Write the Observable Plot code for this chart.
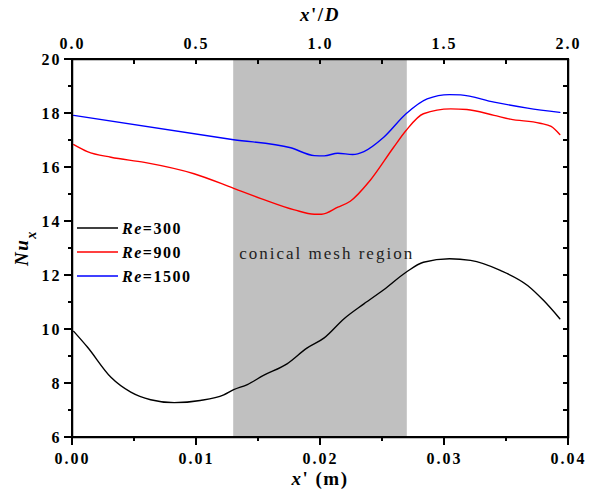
<!DOCTYPE html>
<html><head><meta charset="utf-8">
<script src="https://cdn.jsdelivr.net/npm/d3@7"></script>
<script src="https://cdn.jsdelivr.net/npm/@observablehq/plot@0.6"></script>
<style>
html,body{margin:0;padding:0;background:#fff;overflow:hidden;}
#wrap{position:relative;width:603px;height:491px;}
#wrap svg{display:block;}
#overlay{position:absolute;left:0;top:0;width:603px;height:491px;pointer-events:none;}
#overlay div{position:absolute;background:#000;}
</style>
</head><body><div id="wrap"><div id="chart"></div><div id="overlay"></div></div>
<script>
// x' (m) positions and Nu_x values
const re300X = [0.0001,0.0012,0.0031,0.0047,0.0063,0.0082,0.0103,0.0122,0.0130,0.0141,0.0154,0.0173,0.0189,0.0203,0.0219,0.0235,0.0251,0.0269,0.0283,0.0304,0.0321,0.0345,0.0367,0.0380,0.0393];
const re300Y = [9.93,9.35,8.23,7.68,7.40,7.29,7.37,7.58,7.77,7.96,8.30,8.73,9.31,9.69,10.40,10.95,11.47,12.12,12.49,12.62,12.56,12.19,11.63,11.07,10.40];
const re900X = [0.0001,0.0012,0.0031,0.0058,0.0098,0.0130,0.0152,0.0179,0.0195,0.0201,0.0214,0.0224,0.0240,0.0259,0.0269,0.0283,0.0305,0.0318,0.0340,0.0353,0.0377,0.0386,0.0393];
const re900Y = [16.85,16.59,16.38,16.19,15.77,15.23,14.85,14.43,14.27,14.27,14.53,14.75,15.52,16.75,17.37,17.99,18.17,18.15,17.93,17.79,17.64,17.52,17.22];
const re1500X = [0.0001,0.0130,0.0176,0.0195,0.0203,0.0214,0.0226,0.0235,0.0251,0.0269,0.0286,0.0304,0.0313,0.0340,0.0367,0.0393];
const re1500Y = [17.93,17.03,16.73,16.44,16.43,16.53,16.48,16.59,17.12,17.99,18.54,18.70,18.69,18.42,18.20,18.04];
const seriesNames = ["Re=300","Re=900","Re=1500"];
const seriesColors = ["#000000","#ff0000","#0000ff"];
const region = [{start: 0.013, end: 0.027}];
const regionLabel = [{x: 0.0205, y: 12.8, text: "conical mesh region"}];
const xMajor = [0, 0.01, 0.02, 0.03, 0.04];
const xMinor = [0.005, 0.015, 0.025, 0.035];
const xTopTicks = [0,0.005,0.01,0.015,0.02,0.025,0.03,0.035,0.04];
const yMajor = [6,8,10,12,14,16,18,20];
const yMinor = [7,9,11,13,15,17,19];
const yAll = [6,7,8,9,10,11,12,13,14,15,16,17,18,19,20];
const D = 0.02;

const build = (xs, ys, name) => xs.map((x, i) => ({x, y: ys[i], name}));
const data = [
  ...build(re300X, re300Y, seriesNames[0]),
  ...build(re900X, re900Y, seriesNames[1]),
  ...build(re1500X, re1500Y, seriesNames[2])
];

const FONT = "Liberation Serif, Times New Roman, serif";
const chart = Plot.plot({
  width: 603, height: 491,
  marginLeft: 72, marginRight: 35, marginTop: 59, marginBottom: 54,
  style: {fontFamily: FONT, fontSize: "16px", fontWeight: "bold", background: "#fff", letterSpacing: "2px"},
  x: {domain: [0, 0.04]},
  y: {domain: [6, 20]},
  color: {domain: seriesNames, range: seriesColors},
  marks: [
    Plot.rect(region, {x1: "start", x2: "end", fill: "#c0c0c0"}),
    Plot.text(regionLabel, {x: "x", y: "y", text: "text", fontSize: 17, fontWeight: "normal", fill: "#222"}),
    Plot.line(data, {x: "x", y: "y", z: "name", stroke: "name", strokeWidth: 1.4, curve: "monotone-x"}),
    Plot.axisX({anchor: "bottom", ticks: xMajor, tickSize: 0, tickPadding: 15, label: null, tickFormat: d3.format(".2f")}),
    Plot.axisX({anchor: "top", ticks: xMajor, tickSize: 0, tickPadding: 11, label: null, tickFormat: d => (d / D).toFixed(1)}),
    Plot.axisY({anchor: "left", ticks: yMajor, tickSize: 0, tickPadding: 11, label: null}),
    Plot.frame({stroke: "#000", strokeWidth: 1.5})
  ]
});
document.getElementById("chart").appendChild(chart);

const svg = d3.select(chart);
const sx = chart.scale("x"), sy = chart.scale("y");
const X = v => sx.apply(v), Y = v => sy.apply(v);
const x0 = X(0), x1 = X(0.04), y0 = Y(6), y1 = Y(20);

// tick marks and frame, positioned from Plot's own scales (HTML overlay)
const ov = document.getElementById("overlay");
const LW = 1.5;
function bar(left, top, w, h) {
  const d = document.createElement("div");
  d.style.left = left + "px"; d.style.top = top + "px";
  d.style.width = w + "px"; d.style.height = h + "px";
  ov.appendChild(d);
}
const vbar = (x, ya, yb) => bar(x - LW / 2, Math.min(ya, yb), LW, Math.abs(yb - ya));
const hbar = (y, xa, xb) => bar(Math.min(xa, xb), y - LW / 2, Math.abs(xb - xa), LW);
xMajor.forEach(v => vbar(X(v), y0, y0 + 8));
xMinor.forEach(v => vbar(X(v), y0, y0 + 4));
xTopTicks.forEach(v => vbar(X(v), y1, y1 + 5));
yMajor.forEach(v => hbar(Y(v), x0 - 8, x0));
yMinor.forEach(v => hbar(Y(v), x0 - 4, x0));
yAll.forEach(v => hbar(Y(v), x1 - 5, x1));
hbar(y0, x0 - LW / 2, x1 + LW / 2);
hbar(y1, x0 - LW / 2, x1 + LW / 2);
vbar(x0, y1, y0);
vbar(x1, y1, y0);

// axis titles and legend (text with italic parts / subscripts)
const Hh = 491;
const cx = (x0 + x1) / 2;
function richText(g, parts) {
  parts.forEach(([t, italic, sub]) => {
    const ts = g.append("tspan").text(t).attr("font-style", italic ? "italic" : "normal");
    if (sub) ts.attr("baseline-shift", "sub").attr("font-size", "0.75em");
  });
}
const titleAttrs = sel => sel.attr("text-anchor", "middle").attr("font-size", 19).attr("font-weight", "bold")
  .attr("font-family", FONT).style("letter-spacing", "1.5px");
const t1 = titleAttrs(svg.append("text").attr("x", cx).attr("y", Hh - 6));
richText(t1, [["x", true], ["' (m)", false]]);
const t2 = titleAttrs(svg.append("text").attr("x", cx).attr("y", 21));
richText(t2, [["x", true], ["'/", false], ["D", true]]);
const t3 = titleAttrs(svg.append("text").attr("transform", `translate(28,${(y0 + y1) / 2}) rotate(-90)`));
richText(t3, [["Nu", true], ["x", true, true]]);

const leg = svg.append("g").attr("font-family", FONT).attr("font-weight", "bold").attr("font-size", 16)
  .attr("text-anchor", "start").style("letter-spacing", "1.5px");
seriesNames.forEach((name, i) => {
  const y = 228 + i * 24;
  leg.append("line").attr("x1", 77).attr("x2", 118).attr("y1", y).attr("y2", y)
    .attr("stroke", seriesColors[i]).attr("stroke-width", 1.5);
  const t = leg.append("text").attr("x", 122).attr("y", y + 6);
  const [a, b] = name.split("=");
  richText(t, [[a, true], ["=" + b, false]]);
});
</script></body></html>
